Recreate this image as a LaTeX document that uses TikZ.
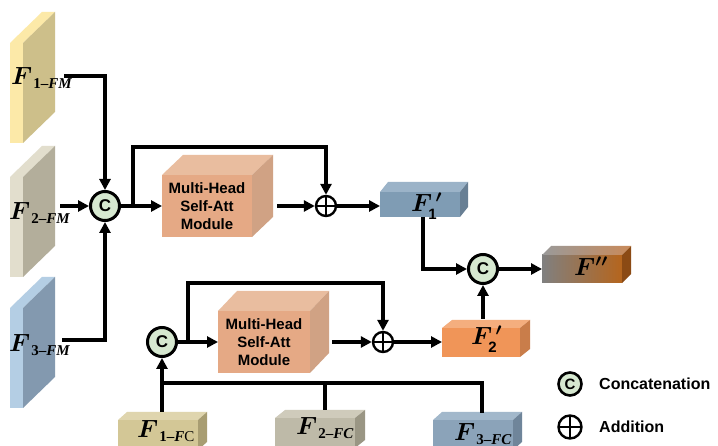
\documentclass[tikz,border=0pt]{standalone}
\usepackage{fontspec}
\newfontfamily\arial{Liberation Sans}
\newfontfamily\tnr{Liberation Serif}
\usetikzlibrary{arrows.meta,calc}
\definecolor{catgreen}{HTML}{D6E8D0}
\definecolor{fmaf}{HTML}{FCE9A8}\definecolor{fmas}{HTML}{CDBF8A}
\definecolor{fmbf}{HTML}{E2DECD}\definecolor{fmbs}{HTML}{B3AE9B}
\definecolor{fmcf}{HTML}{B4CEE4}\definecolor{fmcs}{HTML}{8399AF}
\definecolor{mhf}{HTML}{E5A985}\definecolor{mht}{HTML}{E9BD9F}\definecolor{mhs}{HTML}{D0A284}
\definecolor{paf}{HTML}{7F9CB4}\definecolor{pat}{HTML}{9BB3C8}\definecolor{pas}{HTML}{687F94}
\definecolor{pbf}{HTML}{F09558}\definecolor{pbt}{HTML}{F4AE7E}\definecolor{pbs}{HTML}{C97D4A}
\definecolor{ppl}{HTML}{808080}\definecolor{ppr}{HTML}{B5651D}
\definecolor{pptl}{HTML}{9A9A9A}\definecolor{pptr}{HTML}{C98A5A}\definecolor{pps}{HTML}{8B4A14}
\definecolor{fcaf}{HTML}{D3C796}\definecolor{fcat}{HTML}{DFD5AE}\definecolor{fcas}{HTML}{A89D72}
\definecolor{fcbf}{HTML}{BEBAA8}\definecolor{fcbt}{HTML}{CFCBBB}\definecolor{fcbs}{HTML}{9A9684}
\definecolor{fccf}{HTML}{8BA3B9}\definecolor{fcct}{HTML}{A2B8CB}\definecolor{fccs}{HTML}{6F859A}
\tikzset{
  conn/.style={line width=3.2pt,-{Triangle[length=11pt,width=11pt]}},
  plain/.style={line width=3.2pt},
  cat/.style={circle,draw,line width=3pt,fill=catgreen,minimum size=29pt,inner sep=0pt,
    font=\arial\bfseries\fontsize{17}{17}\selectfont},
  addn/.style={circle,draw,line width=2.4pt,fill=white,minimum size=20pt,inner sep=0pt,
    path picture={\draw[line width=2.4pt] (path picture bounding box.north) -- (path picture bounding box.south)
      (path picture bounding box.west) -- (path picture bounding box.east);}},
  mhtext/.style={font=\arial\bfseries\fontsize{15}{18}\selectfont,align=center},
  lab/.style={inner sep=0pt,anchor=base west},
  fmaF/.style={fill=fmaf},fmaT/.style={fill=fmaf},fmaS/.style={fill=fmas},
  fmbF/.style={fill=fmbf},fmbT/.style={fill=fmbf},fmbS/.style={fill=fmbs},
  fmcF/.style={fill=fmcf},fmcT/.style={fill=fmcf},fmcS/.style={fill=fmcs},
  mhF/.style={fill=mhf},mhT/.style={fill=mht},mhS/.style={fill=mhs},
  paF/.style={fill=paf},paT/.style={fill=pat},paS/.style={fill=pas},
  pbF/.style={fill=pbf},pbT/.style={fill=pbt},pbS/.style={fill=pbs},
  ppF/.style={left color=ppl,right color=ppr},ppT/.style={left color=pptl,right color=pptr},ppS/.style={fill=pps},
  fcaF/.style={fill=fcaf},fcaT/.style={fill=fcat},fcaS/.style={fill=fcas},
  fcbF/.style={fill=fcbf},fcbT/.style={fill=fcbt},fcbS/.style={fill=fcbs},
  fccF/.style={fill=fccf},fccT/.style={fill=fcct},fccS/.style={fill=fccs},
}
\newcommand{\boxthree}[6]{%
  \path[#6T] (#1.north west) -- ++#5 -- ++(#3,0) -- (#1.north east) -- cycle;
  \path[#6S] (#1.north east) -- ++#5 -- ++(0,#4) -- (#1.south east) -- cycle;
}
% name, center, width, height, depth, style prefix, text
\newcommand{\mkbox}[7]{%
  \node[inner sep=0pt,outer sep=0pt,minimum width=#3pt,minimum height=#4pt,#6F,mhtext] (#1) at #2 {#7};
  \boxthree{#1}{#2}{#3}{#4}{#5}{#6}%
}
\newcommand{\flab}[2]{{\fontsize{25}{25}\selectfont\boldmath$F$}\kern1pt\raisebox{-4pt}{\fontsize{15}{15}\selectfont\tnr\bfseries #1\textendash\itshape #2}}
\newcommand{\plab}[1]{{\fontsize{24}{24}\selectfont\boldmath$F^{\,\prime}_{\hbox{\fontsize{15}{15}\selectfont\arial\bfseries #1}}$}}
\newcommand{\pplab}{{\fontsize{24}{24}\selectfont\boldmath$F''$}}
\begin{document}
\begin{tikzpicture}[x=1pt,y=-1pt]
\clip (0,0) rectangle (718,446);
\fill[white] (0,0) rectangle (718,446);
% left slabs
\mkbox{fma}{(16.5,93)}{13}{100}{(32,-31)}{fma}{}
\mkbox{fmb}{(16.5,227)}{13}{100}{(32,-31)}{fmb}{}
\mkbox{fmc}{(16.5,358)}{13}{100}{(32,-31)}{fmc}{}
\node[lab] (lfma) at (11,85) {\flab{1}{FM}};
\node[lab] (lfmb) at (9,220) {\flab{2}{FM}};
\node[lab] (lfmc) at (9,352) {\flab{3}{FM}};
% attention modules
\mkbox{mh1}{(207,206)}{90}{62}{(21,-20)}{mh}{Multi-Head\\Self-Att\\Module}
\mkbox{mh2}{(264,342)}{92}{62}{(19,-20)}{mh}{Multi-Head\\Self-Att\\Module}
% feature boxes
\mkbox{fp1}{(420,204.5)}{80}{25}{(8,-10)}{pa}{}
\mkbox{fp2}{(481,342.5)}{78}{29}{(10,-8)}{pb}{}
\mkbox{fpp}{(582,269)}{80}{28}{(9,-9)}{pp}{}
\node[lab] (lfp1) at (411,212) {\plab{1}};
\node[lab] (lfp2) at (471,345) {\plab{2}};
\node[lab] (lfpp) at (574,276) {\pplab};
% bottom boxes
\mkbox{fc1}{(158,435)}{80}{30}{(9,-8)}{fca}{}
\mkbox{fc2}{(315,433)}{80}{30}{(10,-8)}{fcb}{}
\mkbox{fc3}{(473,435)}{80}{30}{(9,-8)}{fcc}{}
\node[lab] (lfc1) at (137,438) {\flab{1}{F\upshape\mdseries C}};
\node[lab] (lfc2) at (296,435) {\flab{2}{FC}};
\node[lab] (lfc3) at (454,440) {\flab{3}{FC}};
% operators
\node[cat] (c1) at (105,206) {C};
\node[cat] (c3) at (162,342) {C};
\node[cat] (c2) at (483,269) {C};
\node[addn] (p1) at (326,206) {};
\node[addn] (p2) at (383,342) {};
% coordinates
\coordinate (s1) at (64,76);
\coordinate (s2) at (60,206);
\coordinate (s3) at (62,340);
\coordinate (b1) at (133,206);
\coordinate (fb1) at (133,147);
\coordinate (b2) at (188,342);
\coordinate (fb2) at (188,283);
\coordinate (u2) at (483,319);
\coordinate (d1) at (162,412);
\coordinate (bar1) at (162,383);
\coordinate (bar3) at (482,383);
\coordinate (d2) at (325,410);
\coordinate (d3) at (482,413);
% connectors
\draw[conn] (s1) -| (c1.north);
\draw[conn] (s2) -- (c1.west);
\draw[conn] (s3) -| (c1.south);
\draw[conn] (c1.east) -- (mh1.west);
\draw[conn] (b1) -- (fb1) -| (p1.north);
\draw[conn] ($(mh1.east)+(25,0)$) -- (p1.west);
\draw[conn] (p1.east) -- (p1.east -| fp1.west);
\draw[conn] ($(fp1.south)+(3,0)$) |- (c2.west);
\draw[conn] (u2) -- (c2.south);
\draw[conn] (c2.east) -- (fpp.west);
\draw[conn] (c3.east) -- (mh2.west);
\draw[conn] (b2) -- (fb2) -| (p2.north);
\draw[conn] ($(mh2.east)+(22,0)$) -- (p2.west);
\draw[conn] (p2.east) -- (p2.east -| fp2.west);
\draw[conn] (d1) -- (c3.south);
\draw[plain] (bar1) -- (bar3) -- (d3);
\draw[plain] (d2) -- (d2 |- bar1);
% legend
\node[cat,minimum size=23pt,line width=2.6pt,font=\arial\bfseries\fontsize{15}{15}\selectfont] (lc) at (570,384) {C};
\node[addn,minimum size=23pt] (la) at (570,427) {};
\node[anchor=west,inner sep=0pt,font=\arial\bfseries\fontsize{16}{16}\selectfont] (lct) at (599,384) {Concatenation};
\node[anchor=west,inner sep=0pt,font=\arial\bfseries\fontsize{16}{16}\selectfont] (lat) at (599,427) {Addition};
\end{tikzpicture}
\end{document}
